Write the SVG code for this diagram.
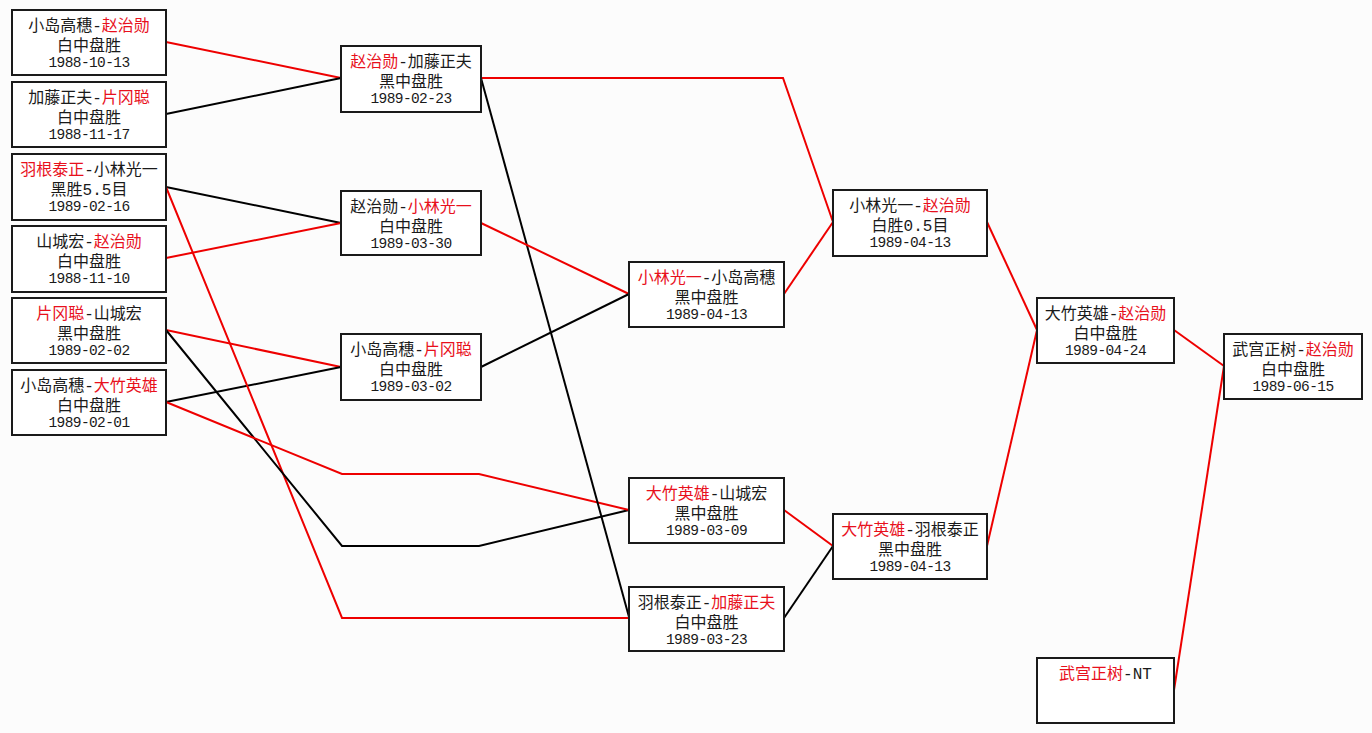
<svg xmlns="http://www.w3.org/2000/svg" width="1372" height="733" viewBox="0 0 1372 733">
<style>
.bg{fill:#fcfcfc}
.box{fill:#ffffff;stroke:#1a1a1a;stroke-width:2}
.t{font-family:'Liberation Mono','Noto Sans CJK SC',monospace;font-size:16px;fill:#1a1a1a;text-anchor:middle}
.d{font-family:'Liberation Mono','Noto Sans CJK SC',monospace;font-size:14.5px;letter-spacing:-0.6px;fill:#1a1a1a;text-anchor:middle}
.r{fill:#e8101c}
.lr{fill:none;stroke:#ee0000;stroke-width:2}
.lb{fill:none;stroke:#000000;stroke-width:2}
</style>
<rect class="bg" x="0" y="0" width="1372" height="733"/>
<g id="connectors">
<polyline class="lr" points="166,42 341,78"/>
<polyline class="lb" points="166,114 341,78"/>
<polyline class="lb" points="166,187 341,223"/>
<polyline class="lr" points="166,258 341,223"/>
<polyline class="lr" points="166,330 341,367"/>
<polyline class="lb" points="166,402 341,367"/>
<polyline class="lr" points="166,187 342,618 629,618"/>
<polyline class="lb" points="166,330 342,546 479,546 629,510"/>
<polyline class="lr" points="166,402 342,474 479,474 629,510"/>
<polyline class="lr" points="481,78 783,78 833,222"/>
<polyline class="lb" points="481,78 629,617"/>
<polyline class="lr" points="481,223 629,294"/>
<polyline class="lb" points="481,367 629,294"/>
<polyline class="lr" points="784,294 833,222"/>
<polyline class="lr" points="784,510 833,546"/>
<polyline class="lb" points="784,618 833,546"/>
<polyline class="lr" points="987,222 1037,330"/>
<polyline class="lr" points="987,546 1037,330"/>
<polyline class="lr" points="1174,330 1224,366"/>
<polyline class="lr" points="1174,690 1224,366"/>
</g>
<g id="b1"><rect class="box" x="12" y="10" width="154" height="65"/><text class="t" x="89" y="31">小岛高穗-<tspan class="r">赵治勋</tspan></text><text class="t" x="89" y="51">白中盘胜</text><text class="d" x="89" y="67">1988-10-13</text></g>
<g id="b2"><rect class="box" x="12" y="82" width="154" height="65"/><text class="t" x="89" y="103">加藤正夫-<tspan class="r">片冈聪</tspan></text><text class="t" x="89" y="123">白中盘胜</text><text class="d" x="89" y="139">1988-11-17</text></g>
<g id="b3"><rect class="box" x="12" y="154" width="154" height="66"/><text class="t" x="89" y="175"><tspan class="r">羽根泰正</tspan>-小林光一</text><text class="t" x="89" y="195">黑胜5.5目</text><text class="d" x="89" y="211">1989-02-16</text></g>
<g id="b4"><rect class="box" x="12" y="226" width="154" height="66"/><text class="t" x="89" y="247">山城宏-<tspan class="r">赵治勋</tspan></text><text class="t" x="89" y="267">白中盘胜</text><text class="d" x="89" y="283">1988-11-10</text></g>
<g id="b5"><rect class="box" x="12" y="298" width="154" height="65"/><text class="t" x="89" y="319"><tspan class="r">片冈聪</tspan>-山城宏</text><text class="t" x="89" y="339">黑中盘胜</text><text class="d" x="89" y="355">1989-02-02</text></g>
<g id="b6"><rect class="box" x="12" y="370" width="154" height="65"/><text class="t" x="89" y="391">小岛高穗-<tspan class="r">大竹英雄</tspan></text><text class="t" x="89" y="411">白中盘胜</text><text class="d" x="89" y="427">1989-02-01</text></g>
<g id="c1"><rect class="box" x="341" y="46" width="140" height="66"/><text class="t" x="411" y="67"><tspan class="r">赵治勋</tspan>-加藤正夫</text><text class="t" x="411" y="87">黑中盘胜</text><text class="d" x="411" y="103">1989-02-23</text></g>
<g id="c2"><rect class="box" x="341" y="191" width="140" height="64"/><text class="t" x="411" y="212">赵治勋-<tspan class="r">小林光一</tspan></text><text class="t" x="411" y="232">白中盘胜</text><text class="d" x="411" y="248">1989-03-30</text></g>
<g id="c3"><rect class="box" x="341" y="334" width="140" height="66"/><text class="t" x="411" y="355">小岛高穗-<tspan class="r">片冈聪</tspan></text><text class="t" x="411" y="375">白中盘胜</text><text class="d" x="411" y="391">1989-03-02</text></g>
<g id="d1"><rect class="box" x="629" y="262" width="155" height="65"/><text class="t" x="706.5" y="283"><tspan class="r">小林光一</tspan>-小岛高穗</text><text class="t" x="706.5" y="303">黑中盘胜</text><text class="d" x="706.5" y="319">1989-04-13</text></g>
<g id="d2"><rect class="box" x="629" y="478" width="155" height="65"/><text class="t" x="706.5" y="499"><tspan class="r">大竹英雄</tspan>-山城宏</text><text class="t" x="706.5" y="519">黑中盘胜</text><text class="d" x="706.5" y="535">1989-03-09</text></g>
<g id="d3"><rect class="box" x="629" y="587" width="155" height="64"/><text class="t" x="706.5" y="608">羽根泰正-<tspan class="r">加藤正夫</tspan></text><text class="t" x="706.5" y="628">白中盘胜</text><text class="d" x="706.5" y="644">1989-03-23</text></g>
<g id="e1"><rect class="box" x="833" y="190" width="154" height="66"/><text class="t" x="910" y="211">小林光一-<tspan class="r">赵治勋</tspan></text><text class="t" x="910" y="231">白胜0.5目</text><text class="d" x="910" y="247">1989-04-13</text></g>
<g id="e2"><rect class="box" x="833" y="514" width="154" height="65"/><text class="t" x="910" y="535"><tspan class="r">大竹英雄</tspan>-羽根泰正</text><text class="t" x="910" y="555">黑中盘胜</text><text class="d" x="910" y="571">1989-04-13</text></g>
<g id="f1"><rect class="box" x="1037" y="298" width="137" height="65"/><text class="t" x="1105.5" y="319">大竹英雄-<tspan class="r">赵治勋</tspan></text><text class="t" x="1105.5" y="339">白中盘胜</text><text class="d" x="1105.5" y="355">1989-04-24</text></g>
<g id="f2"><rect class="box" x="1037" y="658" width="137" height="65"/><text class="t" x="1105.5" y="679"><tspan class="r">武宫正树</tspan>-NT</text></g>
<g id="g1"><rect class="box" x="1224" y="334" width="138" height="65"/><text class="t" x="1293" y="355">武宫正树-<tspan class="r">赵治勋</tspan></text><text class="t" x="1293" y="375">白中盘胜</text><text class="d" x="1293" y="391">1989-06-15</text></g>
</svg>
